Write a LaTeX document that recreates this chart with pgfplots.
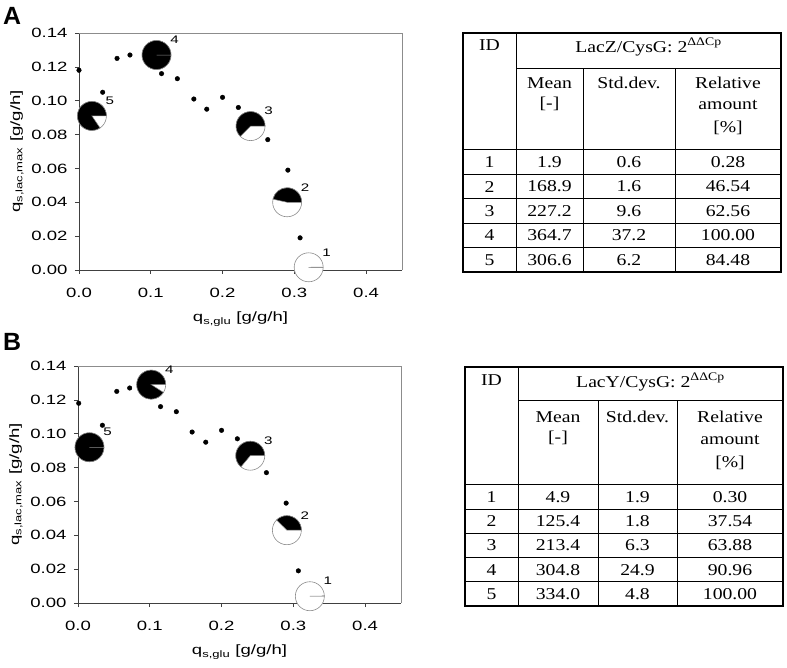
\documentclass[border=0pt]{standalone}
\usepackage{fontspec}
\setmainfont{Liberation Serif}
\newfontfamily\tabfam[FakeStretch=1.19]{Liberation Serif}
\newfontfamily\axfam[FakeStretch=1.38]{Liberation Sans}
\newfontfamily\boldsans{Liberation Sans}
\usepackage{pgfplots}
\pgfplotsset{compat=1.18}
\usepackage{pgfplotstable}

\newcommand{\axfont}{\axfam\fontsize{13.5}{16}\selectfont}
\newcommand{\pielabfont}{\axfam\fontsize{11}{13}\selectfont}
\newcommand{\tabfont}{\tabfam\fontsize{16.6}{20}\selectfont}

% small dots (q_s,glu , q_s,lac,max)
\pgfplotstableread{
x y
0.000 0.118
0.033 0.105
0.053 0.125
0.071 0.127
0.115 0.116
0.137 0.113
0.160 0.101
0.178 0.095
0.200 0.102
0.222 0.096
0.263 0.077
0.291 0.059
0.308 0.019
}\dotsA
\pgfplotstableread{
x y
0.001 0.118
0.034 0.105
0.054 0.125
0.072 0.127
0.115 0.116
0.137 0.113
0.159 0.101
0.178 0.095
0.200 0.102
0.222 0.097
0.2625 0.077
0.290 0.059
0.307 0.019
}\dotsB
% pies: position, relative amount [%], ID
\pgfplotstableread{
x y p id
0.320 0.0016 0.28 1
0.290 0.040 46.54 2
0.239 0.085 62.56 3
0.108 0.127 100.00 4
0.018 0.091 84.48 5
}\piesA
\pgfplotstableread{
x y p id
0.323 0.004 0.30 1
0.291 0.043 37.54 2
0.240 0.087 63.88 3
0.102 0.129 90.96 4
0.016 0.092 100.00 5
}\piesB

\pgfplotsset{
  myax/.style={
    scale only axis, width=323bp, height=237bp,
    xmin=0, xmax=0.45, ymin=0, ymax=0.14,
    axis x line*=bottom, axis y line*=left,
    axis line style={draw=black!75, line width=0.7bp},
    xtick={0,0.1,0.2,0.3,0.4},
    ytick={0,0.02,0.04,0.06,0.08,0.10,0.12,0.14},
    tick align=outside, major tick length=4bp,
    tick style={black!75, line width=0.7bp},
    tick label style={font=\axfont},
    xticklabel style={/pgf/number format/fixed, /pgf/number format/fixed zerofill, /pgf/number format/precision=1, yshift=-11bp},
    yticklabel style={/pgf/number format/fixed, /pgf/number format/fixed zerofill, /pgf/number format/precision=2, xshift=-4bp},
    /pgf/number format/assume math mode=true,
    label style={font=\axfont},
    clip=false,
    xlabel={q\textsubscript{s,glu} [g/g/h]},
    ylabel={q\textsubscript{s,lac,max} [g/g/h]},
    xlabel style={at={(axis description cs:0.5,-0.207)}, anchor=center},
    ylabel style={at={(axis description cs:-0.192,0.5)}, anchor=center},
  },
  dots/.style={only marks, mark=*, mark size=2.3bp, mark options={fill=black, draw=black}},
  pies/.style={
    scatter, only marks, mark=*, mark size=0pt,
    mark options={draw=none, fill=none},
    point meta=explicit, point meta min=0, point meta max=100,
    scatter/@pre marker code/.code={%
      \begingroup
      \pgfkeys{/pgf/fpu=false}%
      \pgfmathsetmacro\pang{0.36*\pgfplotspointmetatransformed}%
      \fill[white] (0,0) circle[radius=14.5bp];
      \draw[black!45, line width=0.6bp] (0,0) circle[radius=14.5bp];
      \filldraw[fill=black, draw=black!45, line width=0.5bp] (0,0) -- (14.5bp,0) arc[start angle=0, end angle=\pang, radius=14.5bp] -- cycle;
      \endgroup
    },
    scatter/@post marker code/.code={},
  },
  pielabels/.style={
    draw=none, mark=none, point meta=explicit symbolic,
    nodes near coords,
    every node near coord/.append style={anchor=center, xshift=18bp, yshift=15bp, font=\pielabfont, inner sep=0},
  },
}

\begin{document}
\begin{tikzpicture}
\path[use as bounding box] (0,0) rectangle (787bp,668bp);

% ---------- Panel A ----------
\begin{axis}[myax, at={(79bp,398bp)}, anchor=south west]
\addplot[dots] table[x=x,y=y] {\dotsA};
\addplot[pies] table[x=x,y=y,meta=p] {\piesA};
\addplot[pielabels] table[x=x,y=y,meta=id] {\piesA};
\draw[black!45, line width=0.7bp] (rel axis cs:0,1) -- (rel axis cs:1,1) -- (rel axis cs:1,0);
\end{axis}

% ---------- Panel B ----------
\begin{axis}[myax, at={(78bp,65bp)}, anchor=south west]
\addplot[dots] table[x=x,y=y] {\dotsB};
\addplot[pies] table[x=x,y=y,meta=p] {\piesB};
\addplot[pielabels] table[x=x,y=y,meta=id] {\piesB};
\draw[black!45, line width=0.7bp] (rel axis cs:0,1) -- (rel axis cs:1,1) -- (rel axis cs:1,0);
\end{axis}

\node[font=\boldsans\bfseries\fontsize{25}{28}\selectfont, inner sep=0] at (12bp,652bp) {A};
\node[font=\boldsans\bfseries\fontsize{25}{28}\selectfont, inner sep=0] at (12bp,326bp) {B};

% ---------- Tables (top-origin pixel coordinates) ----------
\begin{scope}[x=1bp, y=-1bp, shift={(0bp,668bp)}, every node/.style={font=\tabfont, inner sep=0}]
  % Table A
  \draw[line width=1.3bp] (463,33) rectangle (781,272);
  \draw[line width=1bp] (516,33) -- (516,272);
  \draw[line width=1bp] (516,69) -- (781,69);
  \draw[line width=1bp] (583,69) -- (583,272);
  \draw[line width=1bp] (675,69) -- (675,272);
  \draw[line width=1bp] (463,150) -- (781,150);
  \foreach \yy in {174.4,198.8,223.2,247.6} \draw[line width=1bp] (463,\yy) -- (781,\yy);
  \node at (489.5,45) {ID};
  \node at (648.5,47) {LacZ/CysG: 2\textsuperscript{ΔΔCp}};
  \node at (549.5,83) {Mean};
  \node at (549.5,104) {[-]};
  \node at (629,83) {Std.dev.};
  \node at (728,83) {Relative};
  \node at (728,105) {amount};
  \node at (728,128) {[\%]};
  \foreach \r/\a/\b/\c [count=\i] in {1/1.9/0.6/0.28, 2/168.9/1.6/46.54, 3/227.2/9.6/62.56, 4/364.7/37.2/100.00, 5/306.6/6.2/84.48} {
    \pgfmathsetmacro\yc{150+12.2+24.4*(\i-1)}
    \node at (489.5,\yc) {\r};
    \node at (549.5,\yc) {\a};
    \node at (629,\yc) {\b};
    \node at (728,\yc) {\c};
  }
  % Table B
  \draw[line width=1.3bp] (465,367) rectangle (783,606);
  \draw[line width=1bp] (518,367) -- (518,606);
  \draw[line width=1bp] (518,401) -- (783,401);
  \draw[line width=1bp] (598,401) -- (598,606);
  \draw[line width=1bp] (677,401) -- (677,606);
  \draw[line width=1bp] (465,485) -- (783,485);
  \foreach \yy in {509.2,533.4,557.6,581.8} \draw[line width=1bp] (465,\yy) -- (783,\yy);
  \node at (491.5,380) {ID};
  \node at (650.5,382) {LacY/CysG: 2\textsuperscript{ΔΔCp}};
  \node at (558,417) {Mean};
  \node at (558,438) {[-]};
  \node at (637.5,417) {Std.dev.};
  \node at (730,417) {Relative};
  \node at (730,440) {amount};
  \node at (730,463) {[\%]};
  \foreach \r/\a/\b/\c [count=\i] in {1/4.9/1.9/0.30, 2/125.4/1.8/37.54, 3/213.4/6.3/63.88, 4/304.8/24.9/90.96, 5/334.0/4.8/100.00} {
    \pgfmathsetmacro\yc{485+12.1+24.2*(\i-1)}
    \node at (491.5,\yc) {\r};
    \node at (558,\yc) {\a};
    \node at (637.5,\yc) {\b};
    \node at (730,\yc) {\c};
  }
\end{scope}
\end{tikzpicture}
\end{document}
